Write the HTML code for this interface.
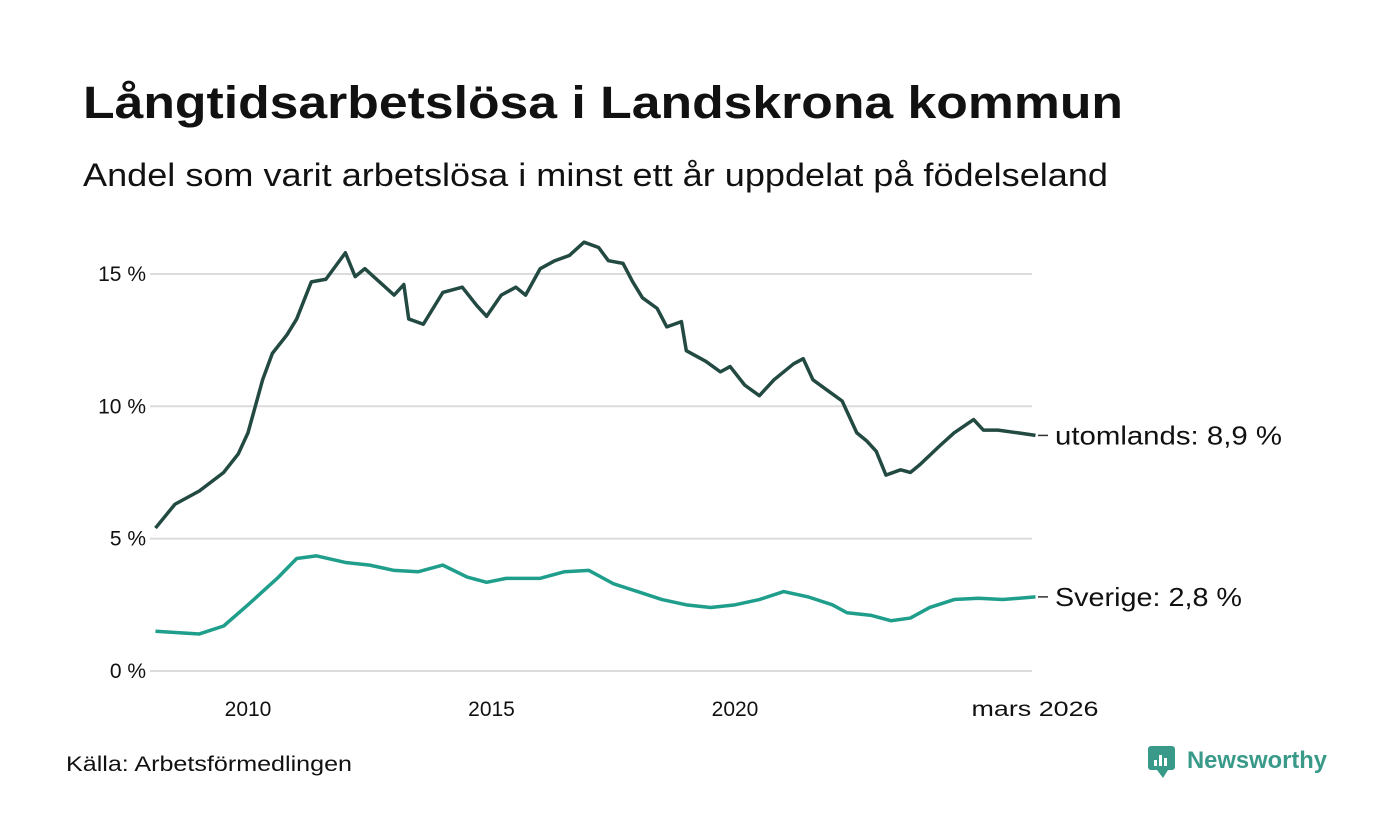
<!DOCTYPE html>
<html><head><meta charset="utf-8"><style>
body{margin:0;background:#fff;font-family:"Liberation Sans",sans-serif;}
svg{display:block}
</style></head><body>
<svg width="1400" height="840" id="c">
<text x="83" y="118" font-size="45" font-weight="bold" fill="#111" textLength="1040" lengthAdjust="spacingAndGlyphs">Långtidsarbetslösa i Landskrona kommun</text>
<text x="83" y="186" font-size="32" fill="#111" textLength="1025" lengthAdjust="spacingAndGlyphs">Andel som varit arbetslösa i minst ett år uppdelat på födelseland</text>
<text x="66" y="771" font-size="21" fill="#111" textLength="286" lengthAdjust="spacingAndGlyphs">Källa: Arbetsförmedlingen</text>
<g>
<rect x="1148" y="746" width="27" height="24" rx="3" fill="#3a9a8a"/>
<path d="M1157 770 L1163 778 L1168 770Z" fill="#3a9a8a"/>
<rect x="1154" y="760" width="3" height="6" fill="#fff"/><rect x="1159" y="755" width="3" height="11" fill="#fff"/><rect x="1164" y="758" width="3" height="8" fill="#fff"/>
<text x="1187" y="768" font-size="24" font-weight="bold" fill="#3a9a8a" textLength="140" lengthAdjust="spacingAndGlyphs">Newsworthy</text>
</g>
<g id="grid"></g><g id="lines"></g>
</svg>
<script>
const yTicks=[0,5,10,15];
const xTicks=[2010,2015,2020];
const foreignT=[2008.1,2008.5,2009.0,2009.5,2009.8,2010.0,2010.3,2010.5,2010.8,2011.0,2011.3,2011.6,2011.8,2012.0,2012.2,2012.4,2012.7,2013.0,2013.2,2013.3,2013.6,2014.0,2014.4,2014.7,2014.9,2015.2,2015.5,2015.7,2016.0,2016.3,2016.6,2016.9,2017.2,2017.4,2017.7,2017.9,2018.1,2018.4,2018.6,2018.9,2019.0,2019.4,2019.7,2019.9,2020.2,2020.5,2020.8,2021.2,2021.4,2021.6,2021.9,2022.2,2022.5,2022.7,2022.9,2023.1,2023.4,2023.6,2023.8,2024.2,2024.5,2024.9,2025.1,2025.4,2025.8,2026.17];
const foreignV=[5.4,6.3,6.8,7.5,8.2,9.0,11.0,12.0,12.7,13.3,14.7,14.8,15.3,15.8,14.9,15.2,14.7,14.2,14.6,13.3,13.1,14.3,14.5,13.8,13.4,14.2,14.5,14.2,15.2,15.5,15.7,16.2,16.0,15.5,15.4,14.7,14.1,13.7,13.0,13.2,12.1,11.7,11.3,11.5,10.8,10.4,11.0,11.6,11.8,11.0,10.6,10.2,9.0,8.7,8.3,7.4,7.6,7.5,7.8,8.5,9.0,9.5,9.1,9.1,9.0,8.9];
const swedenT=[2008.1,2009.0,2009.5,2010.0,2010.3,2010.6,2011.0,2011.4,2012.0,2012.5,2013.0,2013.5,2014.0,2014.5,2014.9,2015.3,2016.0,2016.5,2017.0,2017.5,2018.0,2018.5,2019.0,2019.5,2020.0,2020.5,2021.0,2021.5,2022.0,2022.3,2022.8,2023.2,2023.6,2024.0,2024.5,2025.0,2025.5,2026.17];
const swedenV=[1.5,1.4,1.7,2.5,3.0,3.5,4.25,4.35,4.1,4.0,3.8,3.75,4.0,3.55,3.35,3.5,3.5,3.75,3.8,3.3,3.0,2.7,2.5,2.4,2.5,2.7,3.0,2.8,2.5,2.2,2.1,1.9,2.0,2.4,2.7,2.75,2.7,2.8];
const labels=["utomlands: 8,9 %","Sverige: 2,8 %"];
const labelW=[227,187];
const X=t=>248+(t-2010)*48.7, Y=v=>671-v*26.47;
const NS="http://www.w3.org/2000/svg";
const g=document.getElementById('grid'), L=document.getElementById('lines');
function mk(tag,a,p){const e=document.createElementNS(NS,tag);for(const k in a)e.setAttribute(k,a[k]);p.appendChild(e);return e;}
yTicks.forEach(v=>{
 const l=mk('line',{x1:150,x2:1032,y1:Y(v),y2:Y(v),stroke:'#dcdcdc','stroke-width':2},g);
 
 
 const t=mk('text',{x:146,y:Y(v)+7,'font-size':21,fill:'#111','text-anchor':'end'},g);t.textContent=v+' %';
 
 
});
xTicks.forEach(v=>{
 const t=mk('text',{x:X(v),y:716,'font-size':21,fill:'#111','text-anchor':'middle'},g);t.textContent=v;
 
 
});
const lt=mk('text',{x:1035,y:716,'font-size':21,fill:'#111','text-anchor':'middle',textLength:127,lengthAdjust:'spacingAndGlyphs'},g);lt.textContent='mars 2026';


function series(T,V,col,name,lab,w){
 const p=mk('polyline',{points:T.map((t,i)=>X(t)+','+Y(V[i])).join(' '),fill:'none',stroke:col,'stroke-width':3.5,'stroke-linejoin':'round'},L);
 
 
 const yl=Y(V[V.length-1]);
 mk('line',{x1:1038,x2:1048,y1:yl,y2:yl,stroke:'#333','stroke-width':1.5},L);
 const t=mk('text',{x:1055,y:yl+9,'font-size':26,fill:'#111',textLength:w,lengthAdjust:'spacingAndGlyphs'},L);t.textContent=lab;
 
 
}
series(foreignT,foreignV,'#234a42','foreign',labels[0],labelW[0]);
series(swedenT,swedenV,'#1f9e8c','sweden',labels[1],labelW[1]);
</script>
</body></html>
